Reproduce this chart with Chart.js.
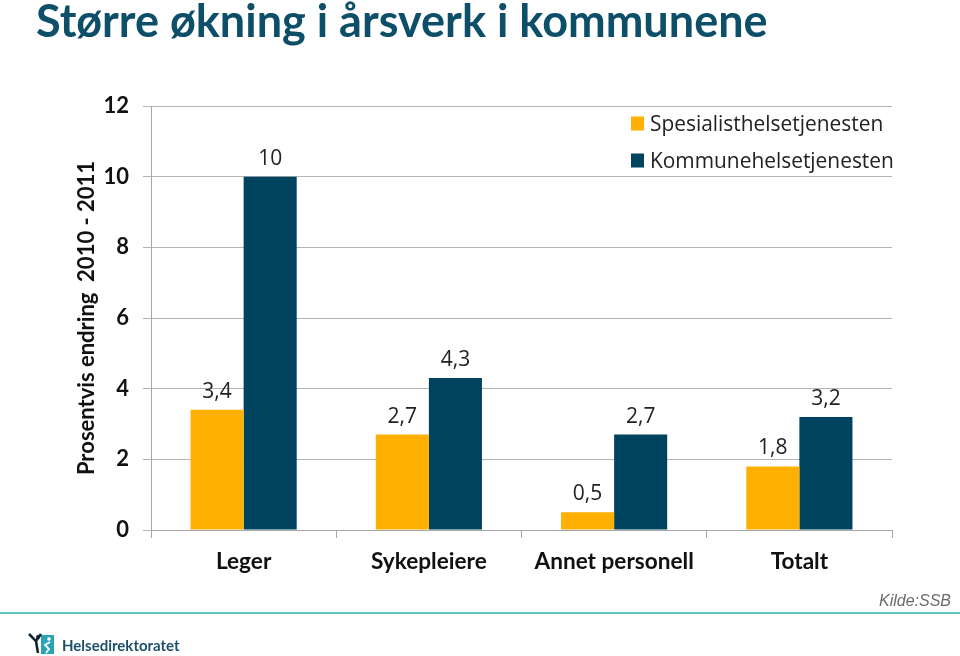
<!DOCTYPE html>
<html lang="no">
<head>
<meta charset="utf-8">
<title>Større økning i årsverk i kommunene</title>
<script src="https://cdn.jsdelivr.net/npm/chart.js@4"></script>
<style>
html,body{margin:0;padding:0;background:#fff;width:960px;height:656px;overflow:hidden}
#wrap{position:relative;width:960px;height:656px}
canvas{position:absolute;left:0;top:0}
.t{position:absolute;white-space:nowrap}
#title{left:36px;top:-7px;font:700 45px Lato,sans-serif;color:#0d4f69}
#src{left:879px;top:592px;font:italic 16px "Liberation Sans",sans-serif;color:#6a6a6a}
#rule{position:absolute;left:0;top:612px;width:960px;height:2px;background:#62c3c4}
#logoText{left:62px;top:636px;font:700 15px Lato,sans-serif;color:#1d4f6b}
#logo{position:absolute;left:28px;top:633px}
</style>
</head>
<body>
<div id="wrap">
<canvas id="c" width="960" height="656"></canvas>
<div class="t" id="title">Større økning i årsverk i kommunene</div>
<div class="t" id="src">Kilde:SSB</div>
<div id="rule"></div>
<svg id="logo" width="28" height="23" viewBox="0 0 28 23">
<rect x="13" y="2" width="13" height="19" fill="#2aa3b5"/>
<circle cx="21" cy="6" r="1.8" fill="#fff"/>
<path d="M22 9 L17 12 L21 16 L18 20" stroke="#fff" stroke-width="1.8" fill="none"/>
<circle cx="10" cy="4" r="2" fill="#123"/>
<path d="M1 1 L8 8 L10 20 M8 8 L13 1" stroke="#123" stroke-width="2.6" fill="none"/>
</svg>
<div class="t" id="logoText">Helsedirektoratet</div>
</div>
<script>
const categories = ["Leger", "Sykepleiere", "Annet personell", "Totalt"];
const spesialist = [3.4, 2.7, 0.5, 1.8];
const kommune = [10, 4.3, 2.7, 3.2];
const seriesNames = ["Spesialisthelsetjenesten", "Kommunehelsetjenesten"];
const yTitle = "Prosentvis endring  2010 - 2011";

const labelPlugin = {
  id: "valueLabels",
  afterDatasetsDraw(chart) {
    const ctx = chart.ctx;
    ctx.save();
    ctx.font = '21px "Open Sans", sans-serif';
    ctx.fillStyle = "#222";
    ctx.textAlign = "center";
    ctx.textBaseline = "middle";
    chart.data.datasets.forEach((ds, i) => {
      chart.getDatasetMeta(i).data.forEach((bar, j) => {
        ctx.fillText(String(ds.data[j]).replace(".", ","), bar.x, bar.y - 18);
      });
    });
    // legend, read from the datasets
    ctx.font = '20.9px "Open Sans", sans-serif';
    ctx.textAlign = "left";
    chart.data.datasets.forEach((ds, i) => {
      const y = 123.5 + i * 37;
      ctx.fillStyle = ds.backgroundColor;
      ctx.fillRect(631, y - 7, 13, 14);
      ctx.fillStyle = "#222";
      ctx.fillText(ds.label, 650, y + 1.5);
    });
    ctx.restore();
  }
};

new Chart(document.getElementById("c"), {
  type: "bar",
  data: {
    labels: categories,
    datasets: [
      { label: seriesNames[0], data: spesialist, backgroundColor: "#ffb000" },
      { label: seriesNames[1], data: kommune, backgroundColor: "#00435f" }
    ]
  },
  plugins: [labelPlugin],
  options: {
    responsive: false,
    animation: false,
    layout: { padding: { top: 106, right: 68, left: 0, bottom: 0 } },
    datasets: { bar: { barPercentage: 1, categoryPercentage: 0.573 } },
    plugins: {
      tooltip: { enabled: false },
      title: { display: false },
      legend: { display: false }
    },
    scales: {
      x: {
        afterFit(s) { s.height = 126; },
        border: { color: "#a8a8a8", width: 1 },
        grid: { drawOnChartArea: false, color: "#a8a8a8", tickLength: 8 },
        ticks: { color: "#111", padding: 10, maxRotation: 0, font: { family: "Lato, sans-serif", size: 22.6, weight: "bold" } }
      },
      y: {
        min: 0, max: 12,
        afterFit(s) { s.width = 151; },
        border: { color: "#a8a8a8", width: 1 },
        grid: { color: "#b4b4b4", tickLength: 8 },
        ticks: { stepSize: 2, color: "#111", padding: 14, font: { family: "Lato, sans-serif", size: 22, weight: "bold" } },
        title: {
          display: true, text: yTitle, color: "#111",
          padding: { top: 74, bottom: 0 },
          font: { family: "Lato, sans-serif", size: 22, weight: "bold" }
        }
      }
    }
  }
});
</script>
</body>
</html>
